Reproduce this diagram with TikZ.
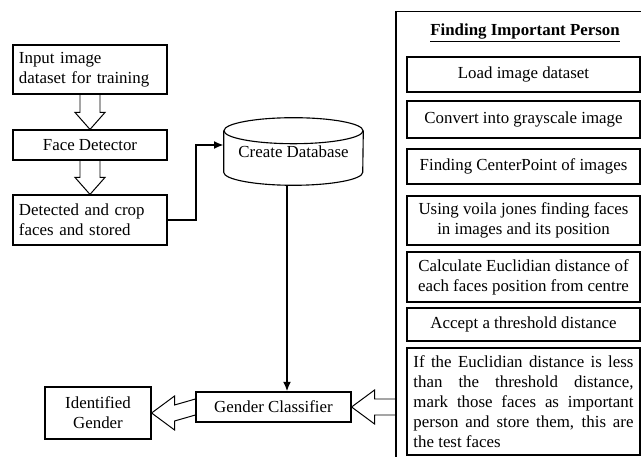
\documentclass[tikz,border=0pt]{standalone}
\usepackage{fontspec}
\setmainfont{Liberation Serif}
\usetikzlibrary{calc,arrows.meta}
% hollow block arrows, (start)(tip)
\def\blockdown(#1)(#2){\draw[blockline] ($(#1)+(-10,0)$) -- ($(#2)+(-10,-17)$) -- ($(#2)+(-15,-17)$) -- (#2) -- ($(#2)+(15,-17)$) -- ($(#2)+(10,-17)$) -- ($(#1)+(10,0)$);}
\def\blockleft(#1)(#2){\draw[blockline] ($(#1)+(0,-8)$) -- ($(#2)+(23,-8)$) -- ($(#2)+(23,-17)$) -- (#2) -- ($(#2)+(23,17)$) -- ($(#2)+(23,8)$) -- ($(#1)+(0,8)$);}
\tikzset{
  box/.style={draw, line width=0.8pt, inner sep=2pt, font=\fontsize{12}{14.2}\selectfont},
  stepbox/.style={box, minimum width=5.825cm, align=center},
  blockline/.style={line width=0.7pt},
  link/.style={line width=1.5pt, -{Latex[length=2.4mm,width=2mm]}}
}
\begin{document}
\begin{tikzpicture}[x=0.025cm, y=-0.025cm]
  \useasboundingbox (0,0) rectangle (641,457);

  % left column
  \node[box, minimum width=3.85cm, minimum height=1.225cm, text width=3.55cm, align=left] (input) at (90,69.5) {Input image\\dataset for training};
  \node[box, minimum width=3.85cm, minimum height=0.75cm] (detector) at (90,145) {Face Detector};
  \node[box, minimum width=3.85cm, minimum height=1.25cm, text width=3.55cm, align=left] (crop) at (90,220) {Detected and crop\\faces and stored};
  \blockdown(input.south)(detector.north)
  \blockdown(detector.south)(crop.north)

  % database cylinder
  \node[minimum width=3.475cm, minimum height=1.675cm, font=\fontsize{12}{14.2}\selectfont] (db) at (293.5,151.5) {Create Database};
  \draw[line width=0.8pt] ($(db.north)+(0,13)$) ellipse [x radius=1.7375cm, y radius=0.325cm];
  \draw[line width=0.8pt] ($(db.north west)+(0,13)$) -- ($(db.south west)+(0,-13)$)
    arc [start angle=180, end angle=360, x radius=1.7375cm, y radius=0.325cm]
    -- ($(db.north east)+(0,13)$);
  \draw[link] (crop.east) -- ++(28,0) |- ($(db.west)+(0,-6.5)$);

  % classifier and result
  \node[box, minimum width=3.875cm, minimum height=0.75cm] (gender) at (273.5,407) {Gender Classifier};
  \node[box, minimum width=2.65cm, minimum height=1.3cm, align=center] (result) at (98,413) {Identified\\Gender};
  \draw[link] ($(db.south)+(-6.5,0)$) -- ($(db.south |- gender.north)+(-6.5,0)$);
  \blockleft(gender.west)(result.east)

  % right panel
  \node[draw, line width=0.8pt, minimum width=6.35cm, minimum height=11.45cm] (panel) at (523,241) {};
  \node[font=\fontsize{12}{14.2}\selectfont\bfseries] (title) at (525,33) {\underline{Finding Important Person}};
  \node[stepbox, minimum height=0.875cm] (s1) at (523.5,74.5) {Load image dataset};
  \node[stepbox, minimum height=0.925cm] (s2) at (523.5,119.5) {Convert into grayscale image};
  \node[stepbox, minimum height=0.875cm] (s3) at (523.5,166.5) {Finding CenterPoint of images};
  \node[stepbox, minimum height=1.225cm] (s4) at (523.5,220.5) {Using voila jones finding faces\\in images and its position};
  \node[stepbox, minimum height=1.25cm] (s5) at (523.5,277) {Calculate Euclidian distance of\\each faces position from centre};
  \node[stepbox, minimum height=0.825cm] (s6) at (523.5,324.5) {Accept a threshold distance};
  \node[box, minimum width=5.825cm, minimum height=2.675cm, text width=5.5cm, align=justify] (s7) at (523.5,401.5)
    {If the Euclidian distance is less\linebreak than the threshold distance,\linebreak mark those faces as important\linebreak person and store them, this are\linebreak the test faces};
  \blockleft(panel.west |- gender.east)(gender.east)
\end{tikzpicture}
\end{document}
